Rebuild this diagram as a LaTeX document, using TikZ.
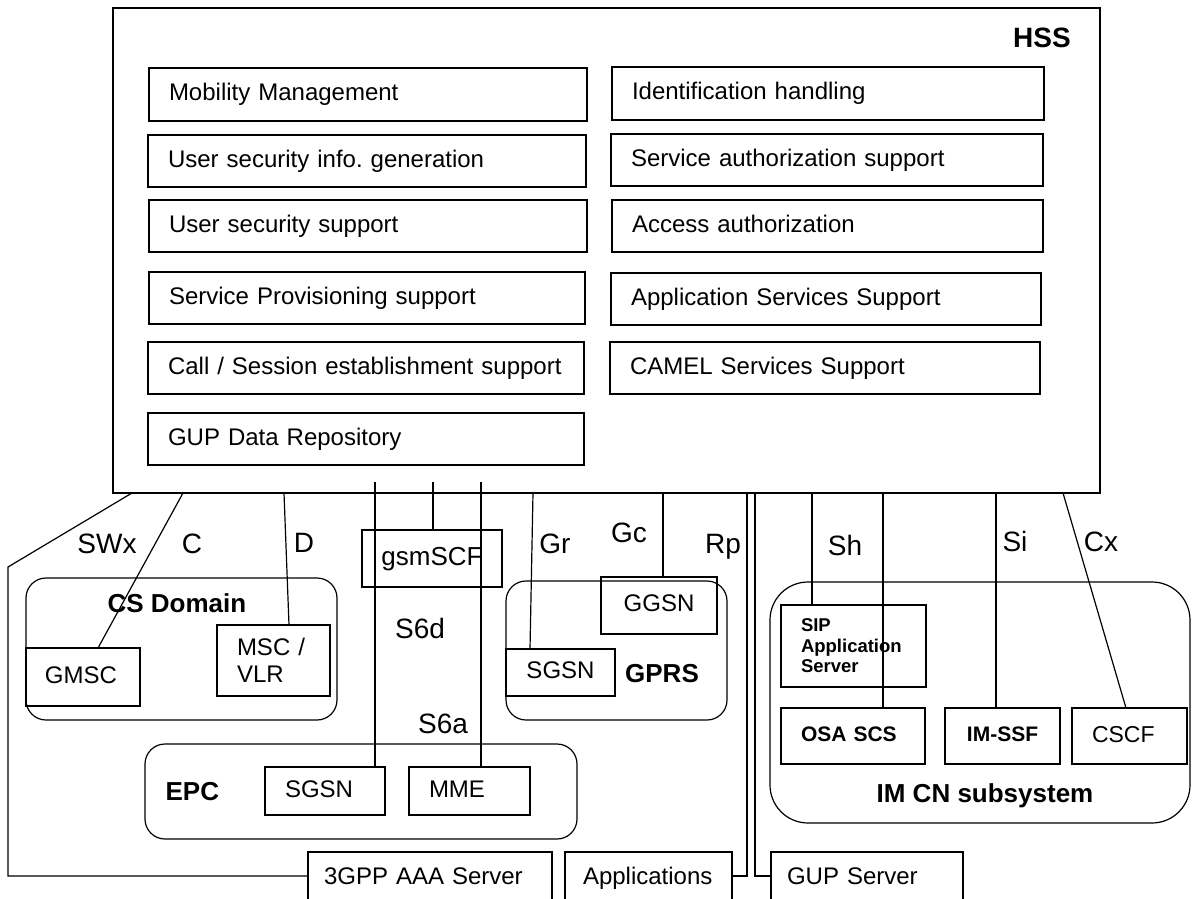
\documentclass[tikz,border=0pt]{standalone}
\usepackage{fontspec}
\setmainfont{Liberation Sans}
\frenchspacing
\newcommand\fBox{\fontsize{24}{27}\selectfont}
\newcommand\fLab{\fontsize{28}{32}\selectfont}
\newcommand\fTitle{\fontsize{26}{30}\selectfont\bfseries}
\newcommand\fHss{\fontsize{28}{32}\selectfont\bfseries}
\newcommand\fIms{\fontsize{21}{24}\selectfont\bfseries}
\newcommand\fSip{\fontsize{18.5}{20.5}\selectfont\bfseries}
\begin{document}
\frenchspacing
\begin{tikzpicture}[x=1pt,y=-1pt,line width=1.2pt,
  hbox/.style={draw,line width=1.2pt,rectangle,inner sep=0pt,outer sep=0pt,anchor=north west,align=left,font=\fBox,text height=17pt,text depth=5pt},
  cbox/.style={draw,line width=1.2pt,rectangle,inner sep=0pt,outer sep=0pt,anchor=north west,align=center,font=\fBox,text height=17pt,text depth=5pt},
  mbox/.style={draw,line width=1.2pt,rectangle,inner sep=0pt,outer sep=0pt,anchor=north west,align=left},
  grpbox/.style={draw,line width=1.2pt,rectangle,rounded corners=20pt,inner sep=0pt,outer sep=0pt,anchor=north west},
  lab/.style={font=\fLab,anchor=base,inner sep=0pt},
  grptitle/.style={font=\fTitle,anchor=base,inner sep=0pt},
  thickline/.style={line width=2pt}]
\path[use as bounding box] (0,0) rectangle (1192,899);
\clip (0,0) rectangle (1192,899);

% HSS
\node[draw,line width=2pt,rectangle,inner sep=0pt,outer sep=0pt,anchor=north west,minimum width=987pt,minimum height=485pt] (hss) at (113,8) {};
\node[font=\fHss,anchor=base,inner sep=0pt] (hsslab) at (1042,48) {HSS};

% left column
\node[hbox,minimum width=438pt,minimum height=53pt,text width=398pt] (mm)   at (149,68)  {Mobility Management};
\node[hbox,minimum width=438pt,minimum height=52pt,text width=398pt] (usig) at (148,135) {User security info. generation};
\node[hbox,minimum width=438pt,minimum height=52pt,text width=398pt] (uss)  at (149,200) {User security support};
\node[hbox,minimum width=436pt,minimum height=52pt,text width=396pt] (sps)  at (149,272) {Service Provisioning support};
\node[hbox,minimum width=436pt,minimum height=52pt,text width=396pt] (cses) at (148,342) {Call / Session establishment support};
\node[hbox,minimum width=436pt,minimum height=52pt,text width=396pt] (gupr) at (148,413) {GUP Data Repository};
% right column
\node[hbox,minimum width=432pt,minimum height=53pt,text width=392pt] (ih)  at (612,67)  {Identification handling};
\node[hbox,minimum width=432pt,minimum height=52pt,text width=392pt] (sas) at (611,134) {Service authorization support};
\node[hbox,minimum width=431pt,minimum height=52pt,text width=391pt] (aa)  at (612,200) {Access authorization};
\node[hbox,minimum width=430pt,minimum height=52pt,text width=390pt] (ass) at (611,273) {Application Services Support};
\node[hbox,minimum width=430pt,minimum height=52pt,text width=390pt] (css) at (610,342) {CAMEL Services Support};

% CS Domain
\node[grpbox,minimum width=311pt,minimum height=142pt] (cs) at (26,578) {};
\node[grptitle] (cslab) at (177,612) {CS Domain};
\node[hbox,minimum width=114pt,minimum height=58pt,text width=76pt] (gmsc) at (26,648) {GMSC};
\node[mbox,minimum width=113pt,minimum height=71pt,text width=73pt,font=\fBox] (msc) at (217,625) {MSC /\\VLR};

% gsmSCF
\node[cbox,minimum width=140pt,minimum height=57pt,text width=130pt,font=\fontsize{26}{30}\selectfont,text height=19pt,text depth=5.5pt] (gsmscf) at (362,530) {gsmSCF};

% GPRS
\node[grpbox,minimum width=221pt,minimum height=139pt] (gprs) at (506,581) {};
\node[cbox,minimum width=116pt,minimum height=57pt,text width=106pt] (ggsn) at (601,577) {GGSN};
\node[cbox,minimum width=109pt,minimum height=47pt,text width=99pt] (gsgsn) at (506,649) {SGSN};
\node[grptitle] (gprslab) at (662,682) {GPRS};

% EPC
\node[grpbox,minimum width=432pt,minimum height=95pt] (epc) at (145,744) {};
\node[grptitle,anchor=base west] (epclab) at (165,800) {EPC};
\node[hbox,minimum width=120pt,minimum height=48pt,text width=80pt] (esgsn) at (265,767) {SGSN};
\node[hbox,minimum width=121pt,minimum height=48pt,text width=81pt] (mme) at (409,767) {MME};

% IM CN subsystem
\node[grpbox,rounded corners=38pt,minimum width=420pt,minimum height=241pt] (imcn) at (770,582) {};
\node[grptitle] (imcnlab) at (985,802) {IM CN subsystem};
\node[mbox,minimum width=145pt,minimum height=82pt,text width=105pt,font=\fSip] (sip) at (781,605) {SIP\\Application\\Server};
\node[hbox,minimum width=144pt,minimum height=56pt,text width=104pt,font=\fIms,text height=15pt,text depth=4pt] (osa) at (781,708) {OSA SCS};
\node[cbox,minimum width=115pt,minimum height=56pt,text width=105pt,font=\fIms,text height=15pt,text depth=4pt] (imssf) at (945,708) {IM-SSF};
\node[hbox,minimum width=115pt,minimum height=56pt,text width=75pt,font=\fontsize{23}{26}\selectfont,text height=16.5pt,text depth=4.5pt] (cscf) at (1072,708) {CSCF};

% bottom boxes (cut by the page edge)
\node[hbox,minimum width=244pt,minimum height=52pt,text width=212pt] (aaa) at (308,852) {3GPP AAA Server};
\node[hbox,minimum width=167pt,minimum height=52pt,text width=131pt] (apps) at (565,852) {Applications};
\node[hbox,minimum width=192pt,minimum height=52pt,text width=160pt] (gupsrv) at (771,852) {GUP Server};

% connectors
\draw (132,0 |- hss.south) -- (8,567) -- (8,876) -- (aaa.west |- 0,876);
\draw (183,0 |- hss.south) -- (98,0 |- gmsc.north);
\draw (284,0 |- hss.south) -- (289,0 |- msc.north);
\draw[thickline] (375,482) -- (375,0 |- esgsn.north);
\draw (433,482) -- (433,0 |- gsmscf.north);
\draw[thickline] (481,482) -- (481,0 |- mme.north);
\draw (533,0 |- hss.south) -- (530,0 |- gsgsn.north);
\draw[thickline] (663,0 |- hss.south) -- (663,0 |- ggsn.north);
\draw (747,0 |- hss.south) -- (747,876) -- (apps.east |- 0,876);
\draw (755,0 |- hss.south) -- (755,876) -- (gupsrv.west |- 0,876);
\draw (812,0 |- hss.south) -- (812,0 |- sip.north);
\draw (883,0 |- hss.south) -- (883,0 |- osa.north);
\draw (996,0 |- hss.south) -- (996,0 |- imssf.north);
\draw (1063,0 |- hss.south) -- (1126,0 |- cscf.north);

% interface labels
\node[lab] (lswx) at (107,553) {SWx};
\node[lab] (lc)   at (192,553) {C};
\node[lab] (ld)   at (304,552) {D};
\node[lab] (ls6d) at (420,638) {S6d};
\node[lab] (ls6a) at (443,733) {S6a};
\node[lab] (lgr)  at (555,553) {Gr};
\node[lab] (lgc)  at (629,542) {Gc};
\node[lab] (lrp)  at (723,553) {Rp};
\node[lab] (lsh)  at (845,555) {Sh};
\node[lab] (lsi)  at (1015,551) {Si};
\node[lab] (lcx)  at (1101,551) {Cx};
\end{tikzpicture}
\end{document}
